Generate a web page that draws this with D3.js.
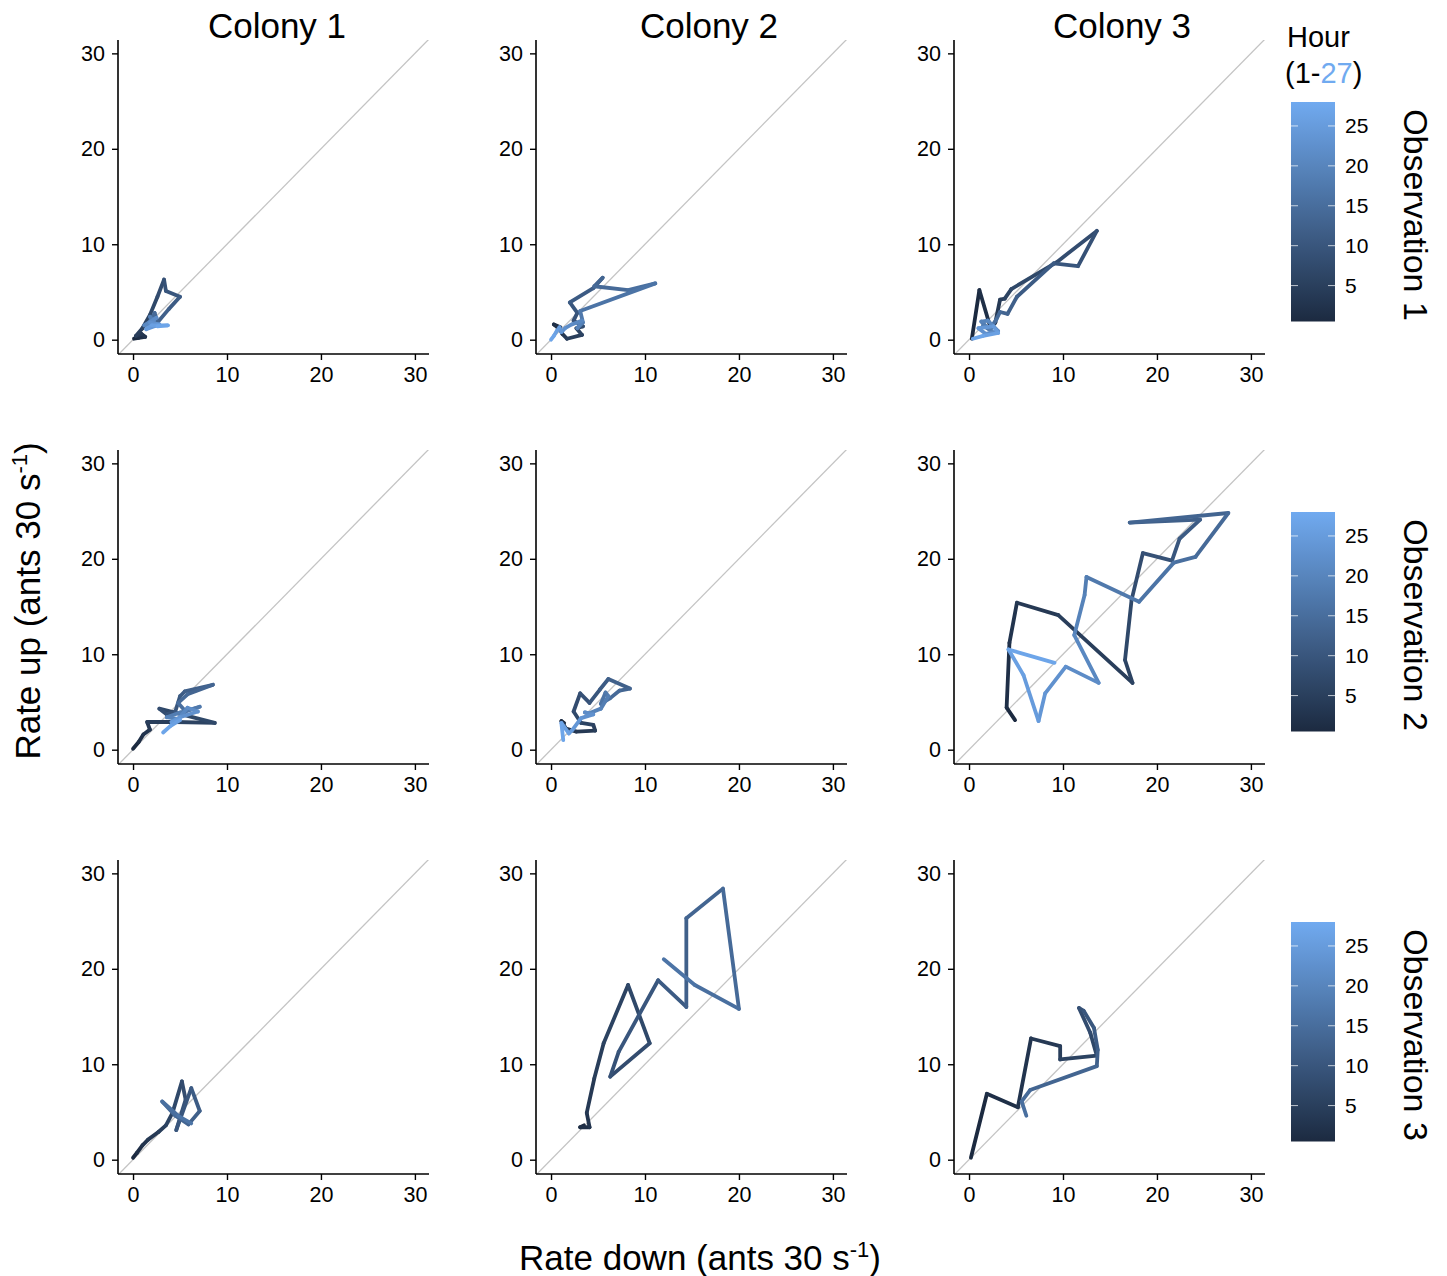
<!DOCTYPE html>
<html><head><meta charset="utf-8">
<script src="https://cdn.jsdelivr.net/npm/d3@7"></script>
<style>body{margin:0;background:#fff}svg{display:block;font-family:"Liberation Sans",Arial,sans-serif}</style>
</head><body>
<svg id="chart" width="1447" height="1276"></svg>
<script>
// ---- DATA ----
const colonies = ["Colony 1", "Colony 2", "Colony 3"];
const observations = ["Observation 1", "Observation 2", "Observation 3"];
const axisTicks = [0, 10, 20, 30];
const hourTicks = [5, 10, 15, 20, 25];
const hourRange = [1, 27];

// Observation 1
const o1c1Down = [0.1,0.6,1.3,0.9,0.3,1.0,1.8,2.6,3.3,3.5,5.0,3.8,2.6,2.3,2.0,1.5,2.4,1.8,2.2,1.2,2.5,1.8,2.8,1.4,2.0,3.7,2.6];
const o1c1Up   = [0.1,0.2,0.3,0.6,0.4,1.2,2.6,4.5,6.3,5.1,4.5,3.2,1.8,2.8,2.2,1.6,1.5,2.4,1.9,1.5,2.3,1.8,1.6,1.1,1.5,1.5,1.4];
const o1c2Down = [1.0,0.3,1.0,1.2,1.7,3.3,2.7,3.4,2.4,2.8,2.0,4.5,5.5,4.6,8.2,11.1,3.1,3.4,2.8,3.3,2.2,1.5,1.1,0.9,0.6,0.3,0.0];
const o1c2Up   = [1.3,1.6,1.0,0.6,0.1,0.5,1.2,1.4,2.0,2.8,3.9,5.4,6.5,5.6,5.2,5.9,3.0,1.8,1.2,2.0,1.6,1.2,0.8,1.3,0.9,0.4,0.0];
const o1c3Down = [0.3,1.1,2.3,2.8,3.3,3.8,4.5,9.3,13.6,11.6,9.0,5.1,4.1,3.3,2.9,2.2,1.5,2.4,1.3,2.0,3.1,1.8,1.0,2.6,3.1,1.5,0.4];
const o1c3Up   = [0.1,5.2,1.2,1.8,4.2,4.3,5.3,8.1,11.4,7.7,8.0,4.5,2.7,2.9,2.1,1.1,1.5,0.9,1.9,2.0,0.9,0.6,1.2,1.4,0.7,0.4,0.1];
// Observation 2
const o2c1Down = [0.0,0.6,1.1,1.8,1.5,4.5,8.7,2.8,3.6,4.5,5.0,5.5,8.5,5.8,4.8,5.6,7.1,5.0,3.6,4.8,5.8,6.9,5.0,4.1,5.0,4.0,3.2];
const o2c1Up   = [0.1,0.8,1.6,2.1,2.9,2.9,2.8,4.3,3.7,4.0,5.6,6.1,6.8,5.8,4.9,4.0,4.5,3.9,3.4,3.2,4.4,4.0,3.4,2.9,3.1,2.5,1.8];
const o2c2Down = [1.4,1.1,1.6,2.7,4.7,4.5,3.2,2.4,3.1,4.1,5.2,6.1,8.4,7.3,6.3,5.3,5.8,6.1,5.3,4.0,3.6,4.5,3.2,2.3,1.9,1.1,1.3];
const o2c2Up   = [2.8,3.0,2.2,1.9,2.0,2.6,2.8,4.0,5.9,4.9,6.3,7.4,6.4,6.2,5.4,4.8,6.0,5.6,4.3,3.8,3.9,3.7,3.3,2.1,1.7,2.8,1.0];
const o2c3Down = [4.9,4.0,4.3,5.1,9.5,17.4,16.6,17.3,18.5,21.6,22.4,24.6,17.1,27.6,24.1,21.8,18.1,12.5,12.3,11.2,13.8,10.3,8.1,7.4,5.8,4.2,9.1];
const o2c3Up   = [3.1,4.4,11.2,15.4,14.1,7.0,9.4,15.7,20.6,19.8,22.1,24.1,23.8,24.8,20.2,19.6,15.5,18.1,16.2,12.0,7.0,8.7,5.9,3.0,7.8,10.5,9.1];
// Observation 3
const o3c1Down = [0.0,0.4,1.0,1.6,2.7,3.5,4.2,5.2,5.6,4.6,6.2,7.1,5.9,4.5,3.1,4.8,6.2];
const o3c1Up   = [0.2,0.7,1.5,2.1,2.9,3.6,4.9,8.2,6.3,3.1,7.5,5.1,3.7,4.6,6.1,4.6,3.8];
const o3c2Down = [3.5,3.1,4.1,3.8,4.6,5.6,8.2,10.5,6.3,7.2,11.4,14.4,14.4,18.3,20.0,15.3,12.0];
const o3c2Up   = [3.6,3.4,3.4,4.9,8.5,12.2,18.3,12.2,8.7,11.3,18.8,16.0,25.3,28.4,15.8,18.3,21.0];
const o3c3Down = [0.2,1.9,5.2,6.6,9.7,9.7,13.6,12.9,11.7,12.2,13.3,13.7,13.6,6.5,5.6,6.1];
const o3c3Up   = [0.2,6.9,5.5,12.7,11.9,10.5,10.9,13.3,15.9,15.6,13.8,11.5,9.8,7.3,6.1,4.6];

const panels = [
  [[o1c1Down,o1c1Up],[o1c2Down,o1c2Up],[o1c3Down,o1c3Up]],
  [[o2c1Down,o2c1Up],[o2c2Down,o2c2Up],[o2c3Down,o2c3Up]],
  [[o3c1Down,o3c1Up],[o3c2Down,o3c2Up],[o3c3Down,o3c3Up]]
];

// ---- LAYOUT ----
const svg = d3.select("#chart");
const colLeft = [118, 536, 954];
const rowTop = [40, 450, 860];
const pw = 311, ph = 314;
const titleX = [277, 709, 1122];
const lowColor = "#1c2a40", highColor = "#70aaf0";
const color = d3.scaleLinear().domain(hourRange).range([lowColor, highColor]).interpolate(d3.interpolateRgb);

const defs = svg.append("defs");
const grad = defs.append("linearGradient").attr("id","hourGrad").attr("x1",0).attr("y1",1).attr("x2",0).attr("y2",0);
d3.range(0, 11).forEach(i => {
  const t = i / 10;
  grad.append("stop").attr("offset", t).attr("stop-color", color(hourRange[0] + t * (hourRange[1] - hourRange[0])));
});

panels.forEach((row, r) => {
  row.forEach(([down, up], c) => {
    const x = d3.scaleLinear().domain([-1.6, 31.5]).range([colLeft[c], colLeft[c] + pw]);
    const y = d3.scaleLinear().domain([-1.5, 31.4]).range([rowTop[r] + ph, rowTop[r]]);
    const g = svg.append("g");
    const clipId = `clip${r}${c}`;
    defs.append("clipPath").attr("id", clipId).append("rect")
      .attr("x", colLeft[c]).attr("y", rowTop[r]).attr("width", pw).attr("height", ph);
    // diagonal y = x
    g.append("line").attr("clip-path", `url(#${clipId})`)
      .attr("x1", x(-1.6)).attr("y1", y(-1.6)).attr("x2", x(31.5)).attr("y2", y(31.5))
      .attr("stroke", "#c4c4c4").attr("stroke-width", 1.3);
    // path segments
    const pts = down.map((d, i) => ({x: d, y: up[i], h: i + 1}));
    const seg = g.append("g").attr("clip-path", `url(#${clipId})`);
    d3.pairs(pts).forEach(([a, b]) => {
      seg.append("path")
        .attr("d", d3.line().x(p => x(p.x)).y(p => y(p.y))([a, b]))
        .attr("stroke", color(a.h)).attr("stroke-width", 3.8)
        .attr("stroke-linecap", "round").attr("fill", "none");
    });
    // axes
    const xAxis = d3.axisBottom(x).tickValues(axisTicks).tickSize(6).tickPadding(7).tickSizeOuter(0);
    const yAxis = d3.axisLeft(y).tickValues(axisTicks).tickSize(6).tickPadding(7).tickSizeOuter(0);
    const gx = g.append("g").attr("transform", `translate(0,${rowTop[r] + ph})`).call(xAxis);
    const gy = g.append("g").attr("transform", `translate(${colLeft[c]},0)`).call(yAxis);
    [gx, gy].forEach(a => {
      a.select(".domain").attr("stroke", "#000").attr("stroke-width", 1.6);
      a.selectAll(".tick line").attr("stroke", "#000").attr("stroke-width", 1.4);
      a.selectAll(".tick text").attr("font-size", 21.5).attr("fill", "#000")
        .attr("font-family", '"Liberation Sans", Arial, sans-serif');
    });
    gx.select(".domain").attr("d", `M${colLeft[c]},0H${colLeft[c] + pw}`);
    gy.select(".domain").attr("d", `M0,${rowTop[r]}V${rowTop[r] + ph}`);
  });
});

// column titles
colonies.forEach((t, c) => {
  svg.append("text").attr("x", titleX[c]).attr("y", 38).attr("text-anchor", "middle")
    .attr("font-size", 35).text(t);
});
// row strips
observations.forEach((t, r) => {
  svg.append("text").attr("transform", `translate(1404,${rowTop[r] + 175}) rotate(90)`)
    .attr("text-anchor", "middle").attr("font-size", 34).text(t);
});

// colorbars
observations.forEach((t, r) => {
  const top = 102 + rowTop[r] - rowTop[0], bottom = 321.5 + rowTop[r] - rowTop[0];
  const cy = d3.scaleLinear().domain([0.5, 28]).range([bottom, top]);
  const bx = 1291, bw = 44;
  svg.append("rect").attr("x", bx).attr("y", top).attr("width", bw).attr("height", bottom - top)
    .attr("fill", "url(#hourGrad)");
  hourTicks.forEach(h => {
    svg.append("line").attr("x1", bx).attr("x2", bx + 7).attr("y1", cy(h)).attr("y2", cy(h))
      .attr("stroke", "#fff").attr("stroke-opacity", 0.7).attr("stroke-width", 1);
    svg.append("line").attr("x1", bx + bw - 7).attr("x2", bx + bw).attr("y1", cy(h)).attr("y2", cy(h))
      .attr("stroke", "#fff").attr("stroke-opacity", 0.7).attr("stroke-width", 1);
    svg.append("text").attr("x", bx + bw + 10).attr("y", cy(h)).attr("dy", "0.35em")
      .attr("font-size", 21).text(h);
  });
});

// legend title
svg.append("text").attr("x", 1287).attr("y", 47).attr("font-size", 29).text("Hour");
const ht = svg.append("text").attr("x", 1285).attr("y", 83).attr("font-size", 29);
ht.append("tspan").text(`(${hourRange[0]}-`);
ht.append("tspan").attr("fill", highColor).text(hourRange[1]);
ht.append("tspan").text(")");

// axis titles
const xt = svg.append("text").attr("x", 700).attr("y", 1270).attr("text-anchor", "middle").attr("font-size", 35);
xt.append("tspan").text("Rate down (ants 30 s");
xt.append("tspan").attr("font-size", 22).attr("dy", -13).text("-1");
xt.append("tspan").attr("dy", 13).text(")");

const yt = svg.append("text").attr("transform", "translate(40,601) rotate(-90)").attr("text-anchor", "middle").attr("font-size", 35);
yt.append("tspan").text("Rate up (ants 30 s");
yt.append("tspan").attr("font-size", 22).attr("dy", -13).text("-1");
yt.append("tspan").attr("dy", 13).text(")");
</script>
</body></html>
